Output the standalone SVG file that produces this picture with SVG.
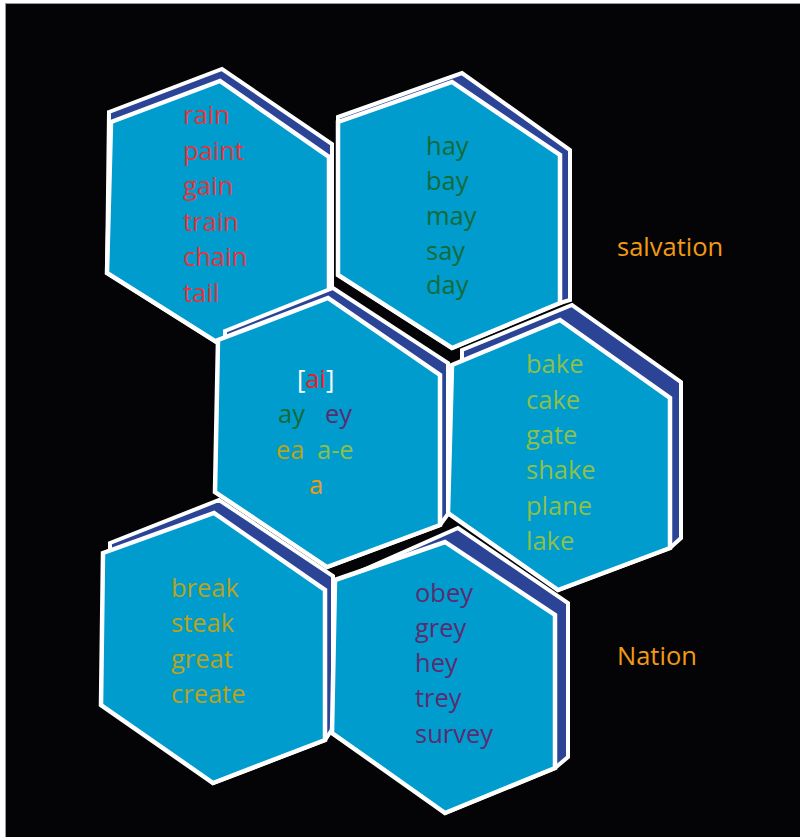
<svg xmlns="http://www.w3.org/2000/svg" width="800" height="837" viewBox="0 0 800 837">
<style>
.back{fill:#2b4496;stroke:#ffffff;stroke-width:4;stroke-linejoin:miter}
.front{fill:#009ccd;stroke:#ffffff;stroke-width:4.5;stroke-linejoin:miter}
text{font-family:"Open Sans","Noto Sans","Liberation Sans",sans-serif;font-size:25.5px}
.red{fill:#e2353b}
.grn{fill:#136b3a}
.lgr{fill:#8cc04a}
.olv{fill:#b9a31a}
.pur{fill:#5b2c6f}
.org{fill:#f29a12}
</style>
<rect x="0" y="0" width="800" height="837" fill="#ffffff"/>
<rect x="5.5" y="3.5" width="800" height="840" fill="#040406" stroke="#9a9a9a" stroke-width="1"/>

<g id="hex-rain">
<polygon class="back" points="109,112 222,69 332,144 332,288 329,290 218,343 107,273"/>
<polygon class="front" points="111,122 220,81 329,157 329,290 218,343 107,273"/>
<g class="red">
<text x="183" y="124">rain</text>
<text x="183" y="160">paint</text>
<text x="183" y="195">gain</text>
<text x="183" y="231">train</text>
<text x="183" y="266">chain</text>
<text x="183" y="302">tail</text>
</g>
</g>

<g id="hex-break">
<polygon class="back" points="110,543 219,500 333,576 333,728 325,740 213,783 110,705"/>
<polygon class="front" points="103,553 214,513 325,590 325,740 213,783 101,705"/>
<g class="olv">
<text x="171" y="597">break</text>
<text x="171" y="632">steak</text>
<text x="171" y="668">great</text>
<text x="171" y="703">create</text>
</g>
</g>

<g id="hex-obey">
<polygon class="back" points="345,578 458,528 568,603 568,757 555,768 445,813 345,733"/>
<polygon class="front" points="335,580 445,542 555,615 555,768 445,813 332,733"/>
<g class="pur">
<text x="415" y="602">obey</text>
<text x="415" y="637">grey</text>
<text x="415" y="672">hey</text>
<text x="415" y="707">trey</text>
<text x="415" y="743">survey</text>
</g>
</g>

<g id="hex-bake">
<polygon class="back" points="462,350 572,305 681,382 681,538 670,548 558,590 462,513"/>
<polygon class="front" points="452,365 560,320 670,398 670,548 558,590 448,513"/>
<g class="lgr">
<text x="526" y="373">bake</text>
<text x="526" y="409">cake</text>
<text x="526" y="444">gate</text>
<text x="526" y="479">shake</text>
<text x="526" y="515">plane</text>
<text x="526" y="550">lake</text>
</g>
</g>

<g id="hex-hay">
<polygon class="back" points="338,117 462,73 570,150 570,300 560,303 452,348 338,275"/>
<polygon class="front" points="338,122 452,82 560,155 560,303 452,348 338,275"/>
<g class="grn">
<text x="426" y="155">hay</text>
<text x="426" y="190">bay</text>
<text x="426" y="225">may</text>
<text x="426" y="260">say</text>
<text x="426" y="294">day</text>
</g>
</g>

<g id="hex-ai">
<polygon class="back" points="225,331 333,288 448,363 448,514 440,525 327,567 225,492"/>
<polygon class="front" points="218,340 328,298 440,375 440,525 327,567 215,492"/>
<text x="297" y="388"><tspan fill="#ffffff">[</tspan><tspan fill="#ed1c24">ai</tspan><tspan fill="#ffffff">]</tspan></text>
<text x="278" y="423" class="grn">ay</text>
<text x="325" y="423" class="pur">ey</text>
<text x="276" y="459" class="olv">ea</text>
<text x="317" y="459" class="lgr">a-e</text>
<text x="309" y="494" class="org">a</text>
</g>

<g id="label-salvation">
<text x="617" y="256" class="org">salvation</text>
</g>
<g id="label-nation">
<text x="617" y="665" class="org">Nation</text>
</g>
</svg>
